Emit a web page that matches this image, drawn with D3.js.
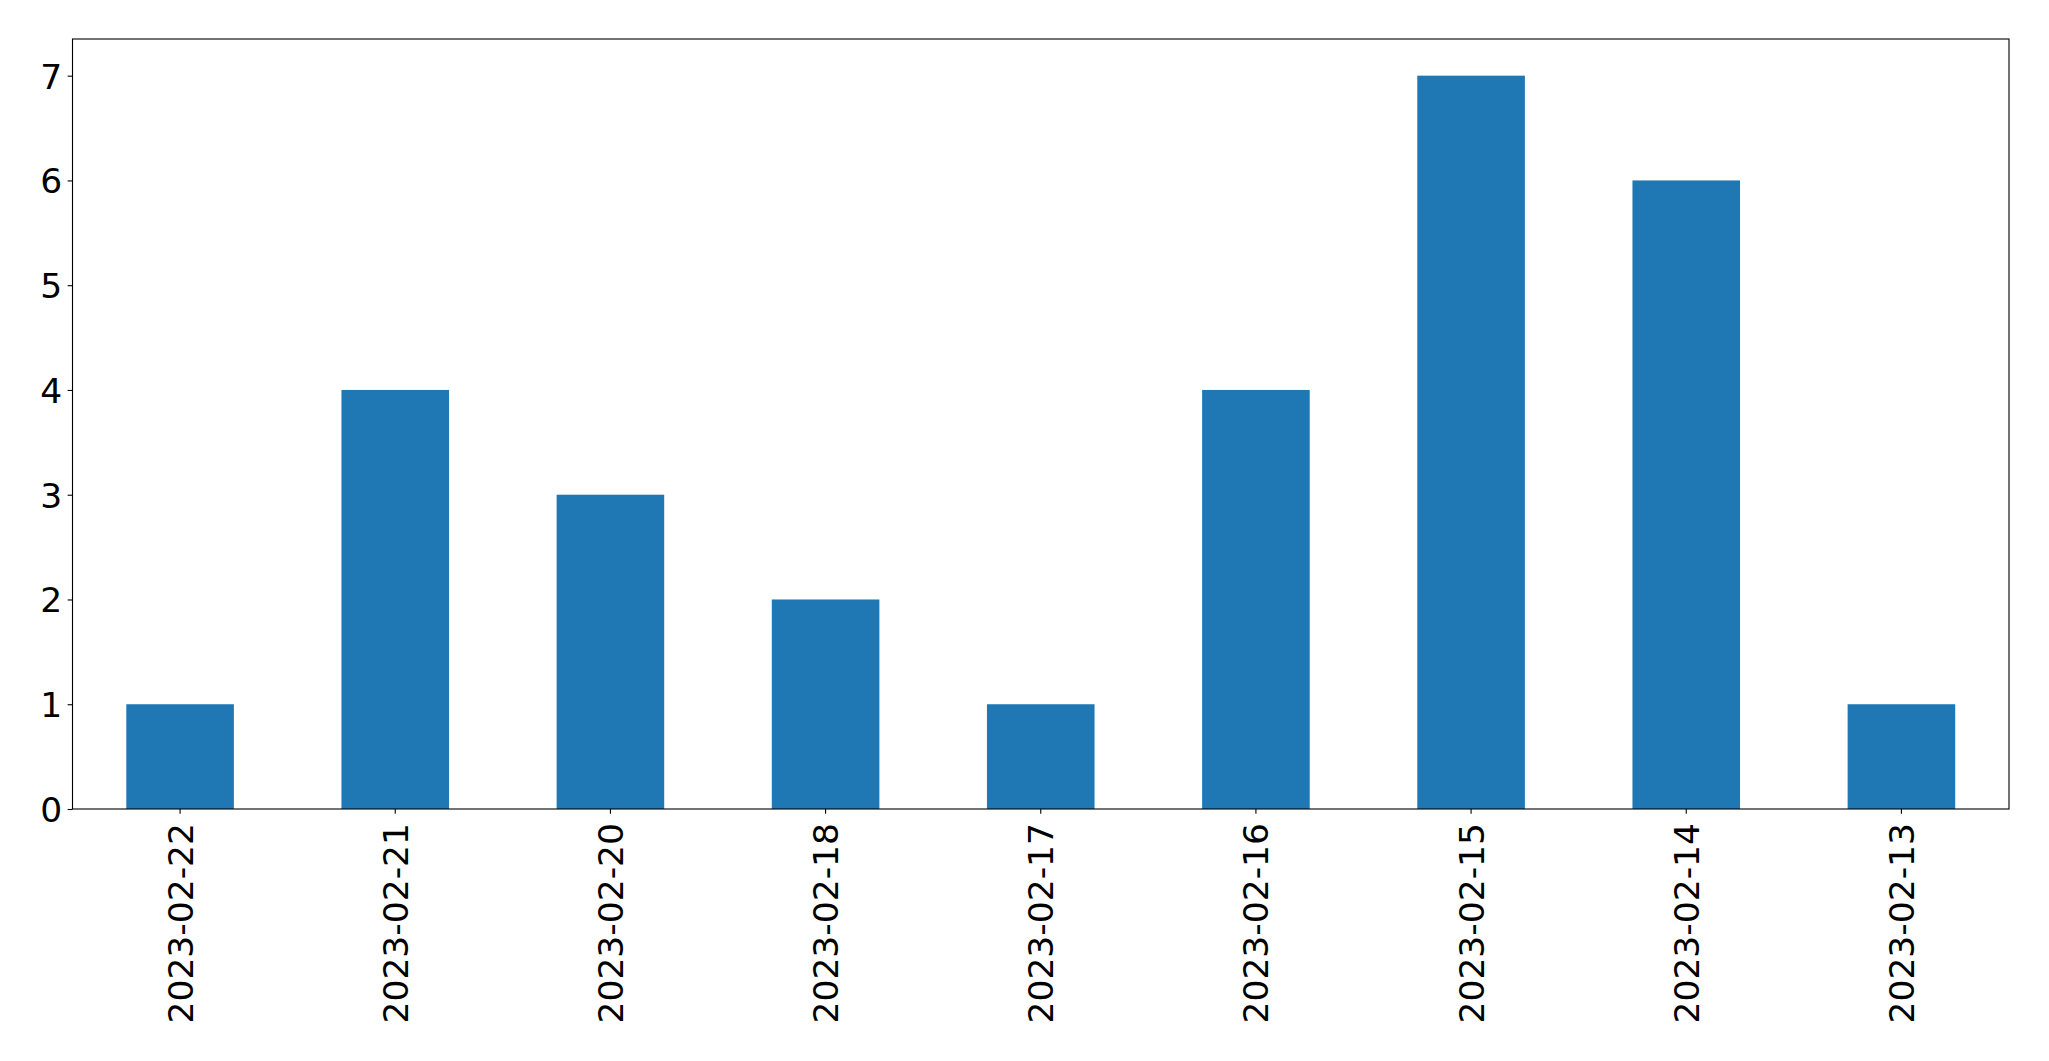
<!DOCTYPE html>
<html>
<head>
<meta charset="utf-8">
<script src="https://cdn.jsdelivr.net/npm/d3@7"></script>
<style>
html,body{margin:0;padding:0;background:#fff;}
svg{display:block;}
text{font-family:"DejaVu Sans",sans-serif;fill:#000;}
</style>
</head>
<body>
<script>
const categories = ["2023-02-22","2023-02-21","2023-02-20","2023-02-18","2023-02-17","2023-02-16","2023-02-15","2023-02-14","2023-02-13"];
const values = [1,4,3,2,1,4,7,6,1];
const yTicks = [0,1,2,3,4,5,6,7];

const W = 2049, H = 1061;
const L = 72.5, R = 2009, T = 39, B = 809;
const fs = 34.5;

const svg = d3.select("body").append("svg").attr("width", W).attr("height", H);

const x = d3.scaleBand().domain(categories).range([L, R]).paddingInner(0.5).paddingOuter(0.25);
const y = d3.scaleLinear().domain([0, 7.35]).range([B, T]);

svg.append("g").selectAll("rect").data(values).join("rect")
  .attr("x", (d,i) => x(categories[i]))
  .attr("width", x.bandwidth())
  .attr("y", d => y(d))
  .attr("height", d => y(0) - y(d))
  .attr("fill", "#1f77b4");

// y axis
const yAxis = svg.append("g").attr("transform", `translate(${L},0)`)
  .call(d3.axisLeft(y).tickValues(yTicks).tickFormat(d3.format("d")).tickSize(4.86).tickPadding(5.5));
yAxis.select(".domain").remove();
yAxis.selectAll(".tick line").attr("stroke", "#000").attr("stroke-width", 1.1);
yAxis.selectAll(".tick text").attr("font-size", fs).attr("font-family", "DejaVu Sans").attr("dy", "0.36em");

// x axis
const xAxis = svg.append("g").attr("transform", `translate(0,${B})`)
  .call(d3.axisBottom(x).tickSize(4.86).tickPadding(0));
xAxis.select(".domain").remove();
xAxis.selectAll(".tick line").attr("stroke", "#000").attr("stroke-width", 1.1);
xAxis.selectAll(".tick text")
  .attr("font-size", fs).attr("font-family", "DejaVu Sans")
  .attr("text-anchor", "end")
  .attr("transform", "translate(0,14) rotate(-90)")
  .attr("x", 0).attr("y", 0).attr("dy", "0.36em");

// frame
svg.append("rect").attr("x", L).attr("y", T).attr("width", R - L).attr("height", B - T)
  .attr("fill", "none").attr("stroke", "#000").attr("stroke-width", 1.1);
</script>
</body>
</html>
